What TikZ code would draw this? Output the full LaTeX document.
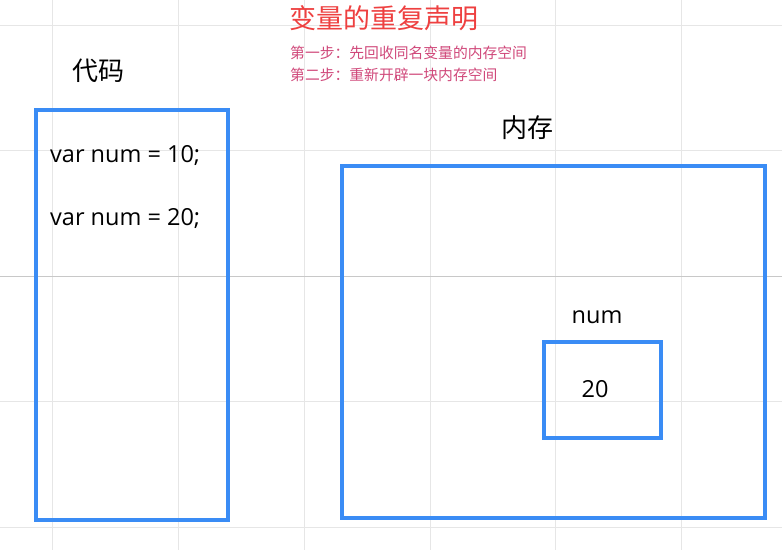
\documentclass[tikz,border=0pt]{standalone}
\usepackage{fontspec}
\setmainfont{Noto Sans CJK SC}
\newfontfamily\latinfont{Open Sans}
\definecolor{boxblue}{HTML}{3A8CF5}
\definecolor{titlered}{HTML}{EE4040}
\definecolor{steppink}{HTML}{D0487A}
\definecolor{gridlight}{HTML}{E6E6E6}
\definecolor{griddark}{HTML}{C8C8C8}

\begin{document}
\begin{tikzpicture}[x=1pt,y=-1pt,
  box/.style={draw=boxblue,line width=4pt,inner sep=0pt,outer sep=0pt},
  label/.style={font=\fontsize{26}{30}\selectfont,inner sep=0pt},
  code/.style={font=\latinfont\fontsize{23.5}{27}\selectfont,anchor=west,inner sep=0pt},
  steptext/.style={font=\fontsize{14.8}{17}\selectfont,text=steppink,anchor=west,inner sep=0pt}]
\useasboundingbox (0,0) rectangle (782,550);
\fill[white] (0,0) rectangle (782,550);

\foreach \x in {52,178,304,430,555,681}
  \draw[gridlight,line width=1pt] (\x,0) -- (\x,550);
\foreach \y in {25,150,401,527}
  \draw[gridlight,line width=1pt] (0,\y) -- (782,\y);
\draw[griddark,line width=1pt] (0,276) -- (782,276);

\node[font=\fontsize{27}{31}\selectfont,text=titlered,inner sep=0pt] (title) at (384,18) {变量的重复声明};
\node[steptext] (step1) at (290,53) {第一步：先回收同名变量的内存空间};
\node[steptext] (step2) at (290,75) {第二步：重新开辟一块内存空间};

\node[label] (codelabel) at (98,71) {代码};
\node[box,minimum width=192pt,minimum height=410pt] (code) at (132,315) {};
\node[code] (line1) at (50,155) {var num = 10;};
\node[code] (line2) at (50,218) {var num = 20;};

\node[label] (memlabel) at (527,128) {内存};
\node[box,minimum width=423pt,minimum height=352pt] (mem) at (553.5,342) {};
\node[code,anchor=center] (numlabel) at (597,317) {num};
\node[box,minimum width=117pt,minimum height=96pt] (num) at (602.5,390) {};
\node[code,anchor=center] (value) at (595,389) {20};
\end{tikzpicture}
\end{document}
